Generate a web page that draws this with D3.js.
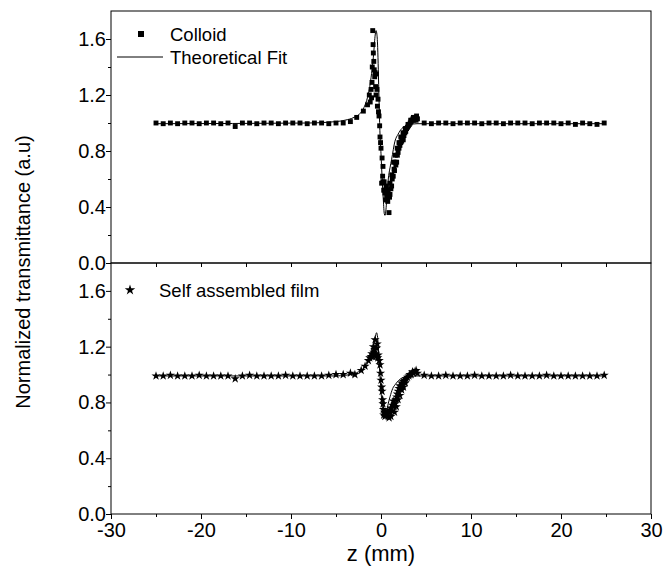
<!DOCTYPE html>
<html>
<head>
<meta charset="utf-8">
<script src="https://cdn.jsdelivr.net/npm/d3@7"></script>
<style>
  body { margin: 0; background: #fff; }
  text { font-family: Arial, "Liberation Sans", sans-serif; fill: #000; }
</style>
</head>
<body>
<div class="zscan"></div>
<script>
// scan positions far from focus (shared by both panels)
const zOuter = [-25.0, -24.2, -23.4, -22.6, -21.8, -21.0, -20.2, -19.4, -18.6, -17.8, -17.0, -16.2, -15.4, -14.6,
  -13.8, -13.0, -12.2, -11.4, -10.6, -9.8, -9.0, -8.2, -7.4, -6.6, -5.8, -5.0, -4.2, -3.4,
  4.8, 5.6, 6.4, 7.2, 8.0, 8.8, 9.6, 10.4, 11.2, 12.0, 12.8, 13.6, 14.4, 15.2, 16.0, 16.8,
  17.6, 18.4, 19.2, 20.0, 20.8, 21.6, 22.4, 23.2, 24.0, 24.8]
const colloidOuter = [1.0, 0.995, 1.0, 0.995, 1.0, 1.0, 0.995, 1.0, 1.0, 0.995, 1.0, 0.975, 1.0, 1.0,
  0.995, 1.0, 1.0, 0.995, 1.0, 1.0, 1.0, 0.995, 1.0, 1.0, 0.995, 1.0, 1.0, 1.01,
  1.0, 0.995, 1.0, 1.0, 0.995, 1.0, 1.0, 1.0, 0.995, 1.0, 1.0, 0.995, 1.0, 1.0,
  1.0, 0.995, 1.0, 1.0, 1.0, 0.995, 1.0, 0.99, 1.0, 0.995, 0.99, 1.0]
const filmOuter = [0.99, 0.99, 0.995, 0.99, 0.99, 0.99, 0.995, 0.99, 0.99, 0.99, 0.99, 0.97, 0.99, 0.995,
  0.99, 0.99, 0.99, 0.99, 0.995, 0.99, 0.99, 0.99, 0.99, 0.99, 0.995, 1.0, 1.0, 1.01,
  0.995, 0.99, 0.99, 0.995, 0.99, 0.99, 0.99, 0.995, 0.99, 0.99, 0.99, 0.99, 0.995, 0.99,
  0.99, 0.99, 0.99, 0.995, 0.99, 0.99, 0.99, 0.99, 0.99, 0.99, 0.99, 0.995]

// dense points near focus: [z, T]
const colloidCore = [[-2.7, 1.04], [-1.96, 1.085], [-1.5, 1.13], [-1.3, 1.20], [-1.2, 1.15], [-1.1, 1.24],
  [-1.05, 1.18], [-1.0, 1.29], [-0.97, 1.40], [-0.92, 1.66], [-0.88, 1.56], [-0.85, 1.50], [-0.8, 1.44],
  [-0.75, 1.38], [-0.7, 1.33], [-0.66, 1.36], [-0.6, 1.26], [-0.55, 1.20], [-0.5, 1.35], [-0.45, 1.24],
  [-0.4, 1.12], [-0.33, 1.17], [-0.28, 1.08], [-0.22, 1.05], [-0.15, 0.98], [-0.11, 0.90], [-0.05, 0.86],
  [0.0, 0.82], [0.07, 0.57], [0.12, 0.75], [0.18, 0.62], [0.22, 0.69], [0.3, 0.52], [0.35, 0.58],
  [0.44, 0.50], [0.5, 0.45], [0.55, 0.53], [0.63, 0.47], [0.7, 0.50], [0.75, 0.44], [0.8, 0.52],
  [0.89, 0.36], [0.95, 0.47], [1.0, 0.49], [1.1, 0.53], [1.18, 0.55], [1.25, 0.60], [1.36, 0.62],
  [1.45, 0.67], [1.55, 0.72], [1.65, 0.70], [1.74, 0.72], [1.82, 0.77], [1.9, 0.79], [2.0, 0.82],
  [2.1, 0.84], [2.2, 0.86], [2.3, 0.87], [2.4, 0.89], [2.47, 0.88], [2.55, 0.91], [2.65, 0.93],
  [2.75, 0.94], [2.84, 0.96], [2.95, 0.97], [3.05, 0.98], [3.15, 0.99], [3.25, 1.00], [3.35, 1.01],
  [3.45, 1.02], [3.55, 1.03], [3.65, 1.02], [3.75, 1.03], [3.85, 1.04], [3.95, 1.05], [4.05, 1.03],
  [1.4, 0.72], [1.6, 0.77], [1.8, 0.82], [2.0, 0.86], [2.2, 0.90], [2.45, 0.93], [2.7, 0.96],
  [3.0, 0.99], [3.3, 1.02], [3.6, 1.04], [3.9, 1.02], [1.2, 0.63], [1.5, 0.66], [1.0, 0.57],
  [0.6, 0.55], [0.2, 0.58]]
const filmCore = [[-2.9, 1.0], [-2.2, 1.03], [-1.77, 1.06], [-1.4, 1.10], [-1.25, 1.12], [-1.1, 1.13],
  [-1.03, 1.15], [-0.95, 1.13], [-0.85, 1.20], [-0.8, 1.16], [-0.75, 1.14], [-0.7, 1.18], [-0.66, 1.25],
  [-0.6, 1.15], [-0.55, 1.13], [-0.48, 1.19], [-0.42, 1.22], [-0.36, 1.12], [-0.3, 1.14], [-0.2, 1.10],
  [-0.11, 1.07], [-0.05, 1.01], [0.0, 0.96], [0.07, 0.91], [0.12, 0.88], [0.18, 0.82], [0.22, 0.79],
  [0.26, 0.75], [0.3, 0.71], [0.38, 0.73], [0.44, 0.70], [0.5, 0.72], [0.6, 0.71], [0.7, 0.73],
  [0.8, 0.70], [0.9, 0.74], [1.0, 0.73], [1.1, 0.76], [1.2, 0.74], [1.3, 0.78], [1.36, 0.81],
  [1.45, 0.77], [1.55, 0.79], [1.65, 0.82], [1.74, 0.84], [1.82, 0.86], [1.9, 0.88], [2.0, 0.90],
  [2.1, 0.92], [2.2, 0.91], [2.3, 0.94], [2.4, 0.93], [2.5, 0.95], [2.66, 0.96], [2.8, 0.97],
  [2.95, 0.98], [3.1, 0.99], [3.2, 1.00], [3.35, 1.0], [3.5, 1.02], [3.6, 1.01], [3.77, 1.02],
  [3.9, 1.03], [4.05, 1.01], [1.5, 0.73], [1.7, 0.77], [1.9, 0.82], [2.1, 0.85], [2.3, 0.89],
  [2.5, 0.91], [2.7, 0.94], [0.9, 0.69], [1.1, 0.70]]

// theoretical fit curves
const colloidFitZ = [-25, -8, -6, -5, -4, -3, -2.3, -1.9, -1.6, -1.4, -1.2, -1.0, -0.85, -0.75, -0.66, -0.55,
  -0.45, -0.37, -0.3, -0.22, -0.11, 0, 0.07, 0.17, 0.26, 0.37, 0.45, 0.55, 0.63, 0.81, 1.0, 1.18, 1.55,
  1.9, 2.3, 3.0, 4.0, 25]
const colloidFitT = [0.995, 1.0, 1.005, 1.01, 1.02, 1.04, 1.07, 1.11, 1.16, 1.21, 1.28, 1.38, 1.47, 1.55, 1.62, 1.66,
  1.63, 1.54, 1.38, 1.17, 0.92, 0.78, 0.68, 0.55, 0.45, 0.35, 0.34, 0.38, 0.45, 0.60, 0.68, 0.74, 0.87,
  0.92, 0.96, 0.985, 0.995, 0.995]
const filmFitZ = [-25, -5, -4, -3, -2.5, -2, -1.6, -1.3, -1.0, -0.8, -0.65, -0.5, -0.4, -0.3, -0.2, -0.1, 0,
  0.1, 0.2, 0.3, 0.45, 0.6, 0.8, 1.0, 1.3, 1.6, 2.0, 2.5, 3.0, 4.0, 25]
const filmFitT = [0.99, 0.99, 0.995, 1.005, 1.02, 1.04, 1.07, 1.11, 1.16, 1.21, 1.26, 1.30, 1.28, 1.20, 1.08, 0.97, 0.88,
  0.80, 0.73, 0.70, 0.70, 0.73, 0.79, 0.84, 0.90, 0.93, 0.96, 0.98, 0.985, 0.99, 0.99]

const xMajor = [-30, -20, -10, 0, 10, 20, 30]
const xMinor = [-25, -15, -5, 5, 15, 25]
const yMajor = [0, 0.4, 0.8, 1.2, 1.6]
const yMinor = [0.2, 0.6, 1.0, 1.4]

var W = 664, H = 573,
    left = 111, right = 651,
    mid = 263, bottom = 514;

var svg = d3.select(".zscan").append("svg").attr("width", W).attr("height", H);

var x = d3.scaleLinear().domain([-30, 30]).range([left, right]);
var yTop = d3.scaleLinear().domain([0, 1.8]).range([mid, 11]);
var yBot = d3.scaleLinear().domain([0, 1.8]).range([bottom, mid]);

function panel(y, outer, core, fitZ, fitT, symbol, size) {
  var g = svg.append("g");
  var r = y.range();

  g.append("rect")
    .attr("x", left).attr("y", r[1])
    .attr("width", right - left).attr("height", r[0] - r[1])
    .attr("fill", "none").attr("stroke", "#000").attr("stroke-width", 1);

  g.append("g").attr("transform", "translate(" + left + ",0)")
    .call(d3.axisLeft(y).tickValues(yMajor).tickSize(5).tickFormat(d3.format(".1f")))
    .call(a => a.select(".domain").remove())
    .call(a => a.selectAll("text").attr("font-size", 20).attr("x", -5).attr("font-family", "Arial, 'Liberation Sans'"));
  g.append("g").attr("transform", "translate(" + left + ",0)")
    .call(d3.axisLeft(y).tickValues(yMinor).tickSize(3).tickFormat(""))
    .call(a => a.select(".domain").remove());

  var pts = zOuter.map((z, i) => [z, outer[i]]).concat(core);
  var sym = d3.symbol().type(symbol).size(size);
  g.selectAll(".pt")
    .data(pts)
    .enter().append("path")
    .attr("class", "pt")
    .attr("transform", d => "translate(" + x(d[0]) + "," + y(d[1]) + ")")
    .attr("d", sym)
    .attr("fill", "#000");

  var line = d3.line()
    .x(d => x(d[0]))
    .y(d => y(d[1]))
    .curve(d3.curveMonotoneX);
  g.append("path")
    .datum(fitZ.map((z, i) => [z, fitT[i]]))
    .attr("d", line)
    .attr("fill", "none")
    .attr("stroke", "#000")
    .attr("stroke-width", 1);
  return g;
}

panel(yTop, colloidOuter, colloidCore, colloidFitZ, colloidFitT, d3.symbolSquare, 24);
panel(yBot, filmOuter, filmCore, filmFitZ, filmFitT, d3.symbolStar, 26);

// ticks on the shared border
svg.append("g").attr("transform", "translate(0," + mid + ")")
  .call(d3.axisBottom(x).tickValues(xMajor.slice(1, -1).concat(xMinor)).tickSize(4).tickFormat(""))
  .call(a => a.select(".domain").remove());

// bottom x axis
svg.append("g").attr("transform", "translate(0," + bottom + ")")
  .call(d3.axisBottom(x).tickValues(xMajor).tickSize(5).tickFormat(d => String(d)))
  .call(a => a.select(".domain").remove())
  .call(a => a.selectAll("text").attr("font-size", 20).attr("y", 9).attr("font-family", "Arial, 'Liberation Sans'"));
svg.append("g").attr("transform", "translate(0," + bottom + ")")
  .call(d3.axisBottom(x).tickValues(xMinor).tickSize(3).tickFormat(""))
  .call(a => a.select(".domain").remove());

svg.append("text")
  .attr("x", x(0)).attr("y", 561)
  .attr("text-anchor", "middle").attr("font-size", 22)
  .text("z (mm)");

svg.append("text")
  .attr("transform", "translate(30,272) rotate(-90)")
  .attr("text-anchor", "middle").attr("font-size", 20)
  .text("Normalized transmittance (a.u)");

// legends
svg.append("rect").attr("x", 138).attr("y", 31).attr("width", 6).attr("height", 6).attr("fill", "#000");
svg.append("text").attr("x", 170).attr("y", 41).attr("font-size", 18.5).text("Colloid");
svg.append("line").attr("x1", 117).attr("x2", 163).attr("y1", 57).attr("y2", 57)
  .attr("stroke", "#000").attr("stroke-width", 1);
svg.append("text").attr("x", 170).attr("y", 64).attr("font-size", 18.5).text("Theoretical Fit");

svg.append("path")
  .attr("transform", "translate(130,290)")
  .attr("d", d3.symbol().type(d3.symbolStar).size(34))
  .attr("fill", "#000");
svg.append("text").attr("x", 159).attr("y", 297).attr("font-size", 18.5).text("Self assembled film");
</script>
</body>
</html>
